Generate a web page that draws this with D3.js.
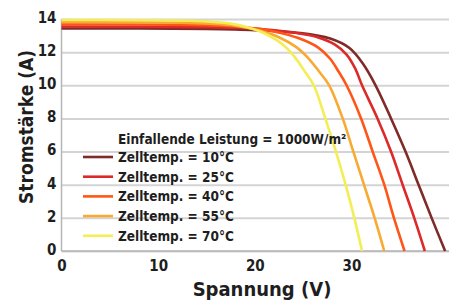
<!DOCTYPE html>
<html>
<head>
<meta charset="utf-8">
<script src="https://cdn.jsdelivr.net/npm/d3@7"></script>
<style>
    body { margin: 0; background: #fff; }
    svg { display: block; }
    text { font-family: "DejaVu Sans Condensed", "Liberation Sans Narrow", sans-serif; fill: #1e1e1e; }
</style>
</head>
<body>
<svg id="chart" width="449" height="302"></svg>
<script>
// values: [Spannung V, Stromstärke A]
const temps = ["10", "25", "40", "55", "70"];
const colors = ["#7f2b28", "#dc2a2a", "#ff5516", "#f8aa32", "#f3ee55"];
const curve10 = [[0, 13.43], [15, 13.4], [20, 13.33], [24.7, 13.15], [27.8, 12.82], [29.8, 12.25], [31.2, 11.3], [32.5, 10], [34.1, 8], [35.6, 6], [36.95, 4], [38.3, 2], [39.7, 0]];
const curve25 = [[0, 13.55], [15, 13.5], [20, 13.42], [24, 13.18], [26.5, 12.9], [28.3, 12.45], [29.5, 11.85], [30.4, 11.0], [31.1, 10], [32.7, 8], [34.1, 6], [35.3, 4], [36.5, 2], [37.6, 0]];
const curve40 = [[0, 13.68], [15, 13.62], [19, 13.5], [22, 13.25], [24.5, 12.85], [26.5, 12.3], [27.8, 11.6], [28.7, 10.8], [29.5, 10], [31, 8], [32.2, 6], [33.4, 4], [34.4, 2], [35.5, 0]];
const curve55 = [[0, 13.8], [14, 13.75], [18, 13.6], [20.5, 13.3], [22.5, 12.9], [24.3, 12.3], [25.6, 11.6], [26.7, 10.8], [27.7, 10], [29.1, 8], [30.2, 6], [31.3, 4], [32.4, 2], [33.4, 0]];
const curve70 = [[0, 13.94], [14, 13.88], [17.5, 13.72], [19.5, 13.45], [21.3, 13.05], [22.8, 12.5], [24, 11.8], [25.1, 10.9], [26.1, 10], [27.3, 8], [28.4, 6], [29.4, 4], [30.3, 2], [31.1, 0]];
const curves = [curve10, curve25, curve40, curve55, curve70];
const yTicks = [0, 2, 4, 6, 8, 10, 12, 14];
const xTicks = [0, 10, 20, 30];
const legendTitle = "Einfallende Leistung = 1000W/m²";

const svg = d3.select("#chart");
const plotLeft = 61.5, plotRight = 449, plotTop = 19, plotBottom = 251;

const x = d3.scaleLinear().domain([0, 40.1]).range([plotLeft, plotRight]);
const y = d3.scaleLinear().domain([0, 14]).range([plotBottom, plotTop]);

// grid + y labels
const yAxis = svg.append("g")
    .attr("transform", `translate(${plotLeft},0)`)
    .call(d3.axisLeft(y).tickValues(yTicks).tickSize(-(plotRight - plotLeft)).tickPadding(5));
yAxis.select(".domain").remove();
yAxis.selectAll("line").attr("stroke", "#d4d4d4").attr("stroke-width", 2);
yAxis.selectAll("text")
    .attr("font-size", 15).attr("font-weight", "bold").attr("dy", "0.22em");

const xAxis = svg.append("g")
    .attr("transform", `translate(0,${plotBottom})`)
    .call(d3.axisBottom(x).tickValues(xTicks).tickSize(0).tickPadding(9));
xAxis.select(".domain").remove();
xAxis.selectAll("text").attr("font-size", 15).attr("font-weight", "bold");

// axis lines
svg.append("line").attr("x1", plotLeft).attr("x2", plotLeft).attr("y1", plotTop).attr("y2", plotBottom)
    .attr("stroke", "#b5b5b5").attr("stroke-width", 1.5);
svg.append("line").attr("x1", plotLeft).attr("x2", plotRight).attr("y1", plotBottom).attr("y2", plotBottom)
    .attr("stroke", "#b5b5b5").attr("stroke-width", 1.5);

// curves
const line = d3.line()
    .x(d => x(d[0]))
    .y(d => y(d[1]))
    .curve(d3.curveCatmullRom.alpha(0.5));

curves.forEach((c, i) => {
    svg.append("path")
        .datum(c)
        .attr("fill", "none")
        .attr("stroke", colors[i])
        .attr("stroke-width", 2.6)
        .attr("d", line);
});

// legend
svg.append("text").attr("x", 118).attr("y", 144)
    .attr("font-size", 13.5).attr("font-weight", "bold").text(legendTitle);

temps.forEach((t, i) => {
    const cy = 157 + i * 19.7;
    svg.append("line").attr("x1", 83).attr("x2", 113).attr("y1", cy).attr("y2", cy)
        .attr("stroke", colors[i]).attr("stroke-width", 2.6);
    svg.append("text").attr("x", 118).attr("y", cy + 5)
        .attr("font-size", 13.5).attr("font-weight", "bold").text(`Zelltemp. = ${t}°C`);
});

// axis titles
svg.append("text")
    .attr("transform", "translate(33,127) rotate(-90)")
    .attr("text-anchor", "middle")
    .attr("font-size", 19)
    .attr("font-weight", "bold")
    .text("Stromstärke (A)");

svg.append("text")
    .attr("x", 262).attr("y", 296)
    .attr("text-anchor", "middle")
    .attr("font-size", 20)
    .attr("font-weight", "bold")
    .text("Spannung (V)");
</script>
</body>
</html>
